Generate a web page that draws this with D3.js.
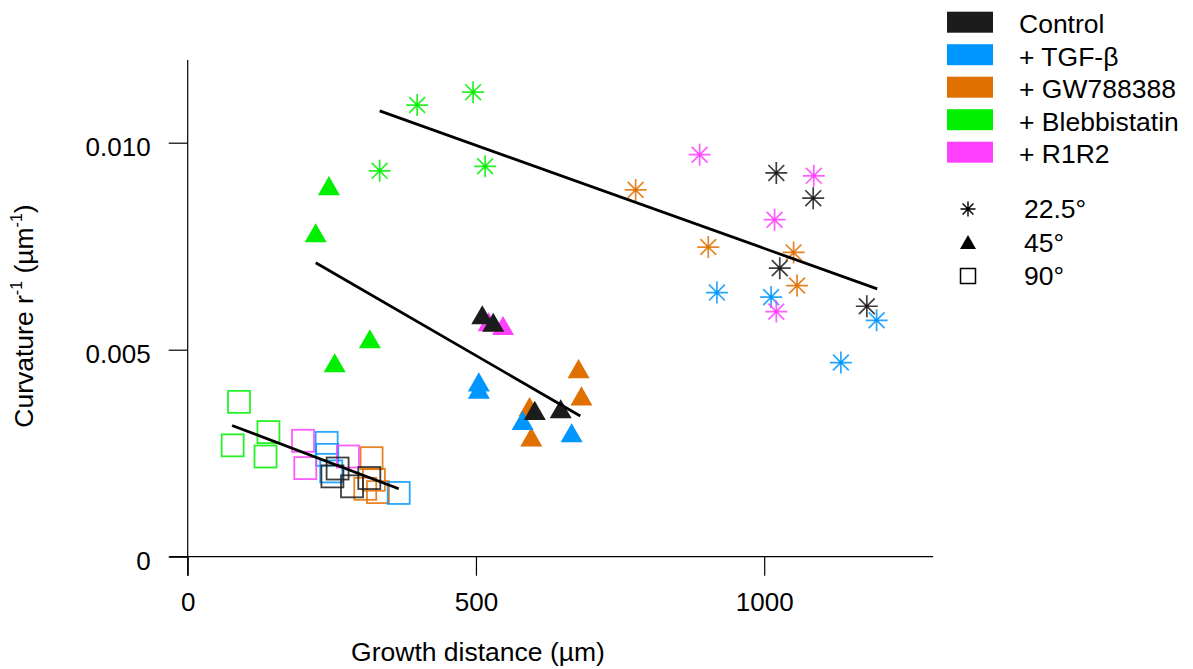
<!DOCTYPE html>
<html>
<head>
<meta charset="utf-8">
<script src="https://cdn.jsdelivr.net/npm/d3@7"></script>
<style>
  body { margin: 0; background: #fff; }
  svg text { font-family: "Liberation Sans", Arial, sans-serif; fill: #000; }
</style>
</head>
<body>
<div id="chart"></div>
<script>
// groups and angles
var groups = ["Control", "+ TGF-β", "+ GW788388", "+ Blebbistatin", "+ R1R2"];
var groupColors = ["#1c1c1c", "#0096ff", "#e07000", "#00f000", "#ff40ff"];
var angles = ["22.5°", "45°", "90°"];

var xTicks = [0, 500, 1000];
var xTickLabels = ["0", "500", "1000"];
var yTicks = [0, 0.005, 0.010];
var yTickLabels = ["0", "0.005", "0.010"];

// 22.5 degree points: [group, growth distance, curvature]
var pts22 = [
    ["+ Blebbistatin", 398, 0.01091],
    ["+ Blebbistatin", 495, 0.01122],
    ["+ Blebbistatin", 333, 0.00932],
    ["+ Blebbistatin", 516, 0.00943],
    ["+ GW788388", 777, 0.00886],
    ["+ GW788388", 903, 0.00748],
    ["+ GW788388", 1051, 0.00735],
    ["+ GW788388", 1057, 0.00655],
    ["+ TGF-β", 918, 0.00638],
    ["+ TGF-β", 1012, 0.00627],
    ["+ TGF-β", 1195, 0.00571],
    ["+ TGF-β", 1133, 0.00469],
    ["+ R1R2", 888, 0.00971],
    ["+ R1R2", 1086, 0.00920],
    ["+ R1R2", 1018, 0.00814],
    ["+ R1R2", 1021, 0.00592],
    ["Control", 1021, 0.00927],
    ["Control", 1085, 0.00866],
    ["Control", 1027, 0.00697],
    ["Control", 1178, 0.00605]
];

// 45 degree points
var pts45 = [
    ["+ Blebbistatin", 245, 0.00894],
    ["+ Blebbistatin", 222, 0.00780],
    ["+ Blebbistatin", 316, 0.00524],
    ["+ Blebbistatin", 255, 0.00466],
    ["+ GW788388", 678, 0.00452],
    ["+ GW788388", 683, 0.00386],
    ["+ GW788388", 593, 0.00360],
    ["+ GW788388", 596, 0.00287],
    ["+ TGF-β", 505, 0.00420],
    ["+ TGF-β", 505, 0.00402],
    ["+ TGF-β", 581, 0.00327],
    ["+ TGF-β", 666, 0.00297],
    ["+ R1R2", 522, 0.00565],
    ["+ R1R2", 547, 0.00556],
    ["Control", 511, 0.00582],
    ["Control", 530, 0.00564],
    ["Control", 602, 0.00351],
    ["Control", 647, 0.00355]
];

// 90 degree points
var pts90 = [
    ["+ Blebbistatin", 89, 0.00374],
    ["+ Blebbistatin", 140, 0.00301],
    ["+ Blebbistatin", 78, 0.00269],
    ["+ Blebbistatin", 135, 0.00242],
    ["+ R1R2", 200, 0.00280],
    ["+ R1R2", 204, 0.00214],
    ["+ R1R2", 278, 0.00242],
    ["+ GW788388", 319, 0.00238],
    ["+ GW788388", 323, 0.00186],
    ["+ GW788388", 308, 0.00164],
    ["+ GW788388", 330, 0.00156],
    ["+ TGF-β", 241, 0.00275],
    ["+ TGF-β", 242, 0.00246],
    ["+ TGF-β", 249, 0.00206],
    ["+ TGF-β", 366, 0.00154],
    ["Control", 260, 0.00213],
    ["Control", 251, 0.00194],
    ["Control", 285, 0.00170],
    ["Control", 315, 0.00190]
];

// fitted lines, one per angle: [[x0, y0], [x1, y1]]
var fit22 = [[333, 0.01077], [1196, 0.00647]];
var fit45 = [[222, 0.00710], [681, 0.00340]];
var fit90 = [[77, 0.00317], [366, 0.00164]];

var W = 1193, H = 669;

var svg = d3.select("#chart")
    .append("svg")
    .attr("width", W)
    .attr("height", H);

var x = d3.scaleLinear().domain([0, 1000]).range([187.7, 764.2]);
var y = d3.scaleLinear().domain([0, 0.01]).range([556.7, 142.7]);
var color = d3.scaleOrdinal().domain(groups).range(groupColors);

// axis lines (crossing at origin like the original)
svg.append("line")
    .attr("x1", x(0)).attr("x2", x(0))
    .attr("y1", y(0.0120)).attr("y2", y(-0.00046))
    .attr("stroke", "#000").attr("stroke-width", 1.2);
svg.append("line")
    .attr("x1", x(-32)).attr("x2", x(1293))
    .attr("y1", y(0)).attr("y2", y(0))
    .attr("stroke", "#000").attr("stroke-width", 1.2);

var yAxis = svg.append("g")
    .attr("transform", "translate(" + x(0) + ",0)")
    .call(d3.axisLeft(y).tickValues(yTicks).tickSize(19).tickPadding(18)
        .tickFormat(function (d, i) { return yTickLabels[i]; }));
yAxis.select(".domain").remove();
yAxis.selectAll("line").attr("stroke", "#000").attr("stroke-width", 1.2);
yAxis.selectAll("text")
    .attr("font-size", 26)
    .attr("font-family", "Liberation Sans, Arial, sans-serif")
    .attr("fill", "#000")
    .attr("dy", "0.5em");

var xAxis = svg.append("g")
    .attr("transform", "translate(0," + y(0) + ")")
    .call(d3.axisBottom(x).tickValues(xTicks).tickSize(19).tickPadding(17)
        .tickFormat(function (d, i) { return xTickLabels[i]; }));
xAxis.select(".domain").remove();
xAxis.selectAll("line").attr("stroke", "#000").attr("stroke-width", 1.2);
xAxis.selectAll("text")
    .attr("font-size", 26)
    .attr("font-family", "Liberation Sans, Arial, sans-serif")
    .attr("fill", "#000");

// axis titles
svg.append("text")
    .attr("x", 478)
    .attr("y", 661)
    .attr("text-anchor", "middle")
    .attr("font-size", 26.5)
    .text("Growth distance (µm)");

var ytitle = svg.append("text")
    .attr("transform", "translate(33,316) rotate(-90)")
    .attr("text-anchor", "middle")
    .attr("font-size", 26.5);
ytitle.append("tspan").text("Curvature r");
ytitle.append("tspan").attr("font-size", 16).attr("dy", -11).text("-1");
ytitle.append("tspan").attr("dy", 11).text(" (µm");
ytitle.append("tspan").attr("font-size", 16).attr("dy", -11).text("-1");
ytitle.append("tspan").attr("dy", 11).text(")");

// symbol helpers
function starPath(r) {
    var d = r * 0.72;
    return "M" + (-r) + ",0L" + r + ",0M0," + (-r) + "L0," + r +
        "M" + (-d) + "," + (-d) + "L" + d + "," + d +
        "M" + (-d) + "," + d + "L" + d + "," + (-d);
}
function triPath(s) {
    var h = s * 0.87;
    return "M0," + (-h / 2 - 1) + "L" + (s / 2) + "," + (h / 2 - 1) + "L" + (-s / 2) + "," + (h / 2 - 1) + "Z";
}

var order = ["+ Blebbistatin", "+ GW788388", "+ TGF-β", "+ R1R2", "Control"];
function sorted(arr) {
    return arr.slice().sort(function (a, b) { return order.indexOf(a[0]) - order.indexOf(b[0]); });
}

// 90 degree squares
svg.append("g").selectAll("rect")
    .data(sorted(pts90))
    .enter().append("rect")
    .attr("x", function (d) { return x(d[1]) - 11; })
    .attr("y", function (d) { return y(d[2]) - 11; })
    .attr("width", 22)
    .attr("height", 22)
    .attr("fill", "none")
    .attr("stroke", function (d) { return color(d[0]); })
    .attr("stroke-width", 1.8)
    .attr("stroke-opacity", 0.85);

// 45 degree triangles
svg.append("g").selectAll("path")
    .data(sorted(pts45))
    .enter().append("path")
    .attr("transform", function (d) { return "translate(" + x(d[1]) + "," + y(d[2]) + ")"; })
    .attr("d", triPath(22))
    .attr("fill", function (d) { return color(d[0]); });

// 22.5 degree stars
var stars = svg.append("g").selectAll("g")
    .data(sorted(pts22))
    .enter().append("g")
    .attr("transform", function (d) { return "translate(" + x(d[1]) + "," + y(d[2]) + ")"; });
stars.append("path")
    .attr("d", starPath(11))
    .attr("fill", "none")
    .attr("stroke", function (d) { return color(d[0]); })
    .attr("stroke-width", 1.7)
    .attr("stroke-opacity", 0.85);
stars.append("circle")
    .attr("r", 1.8)
    .attr("fill", function (d) { return color(d[0]); });

// fitted lines
var line = d3.line()
    .x(function (d) { return x(d[0]); })
    .y(function (d) { return y(d[1]); });
[fit22, fit45, fit90].forEach(function (f) {
    svg.append("path")
        .datum(f)
        .attr("fill", "none")
        .attr("stroke", "#000")
        .attr("stroke-width", 2.8)
        .attr("d", line);
});

// legend - colours
var leg = svg.append("g");
groups.forEach(function (g, i) {
    var top = 11.7 + i * 32.5;
    leg.append("rect")
        .attr("x", 947)
        .attr("y", top)
        .attr("width", 46)
        .attr("height", 21)
        .attr("fill", groupColors[i]);
    leg.append("text")
        .attr("x", 1019)
        .attr("y", top + 21.5)
        .attr("font-size", 26.5)
        .text(g);
});

// legend - shapes
var shapeY = [209, 243, 276];
angles.forEach(function (a, i) {
    var cy = shapeY[i];
    var gg = leg.append("g").attr("transform", "translate(968," + cy + ")");
    if (i == 0) {
        gg.append("path").attr("d", starPath(7.5)).attr("fill", "none")
            .attr("stroke", "#000").attr("stroke-width", 1.4);
        gg.append("circle").attr("r", 1.5).attr("fill", "#000");
    } else if (i == 1) {
        gg.append("path").attr("d", triPath(16)).attr("fill", "#000");
    } else {
        gg.append("rect").attr("x", -7.5).attr("y", -7.5).attr("width", 15).attr("height", 15)
            .attr("fill", "none").attr("stroke", "#000").attr("stroke-width", 1.5);
    }
    leg.append("text")
        .attr("x", 1024)
        .attr("y", cy + 8.5)
        .attr("font-size", 26.5)
        .text(a);
});
</script>
</body>
</html>
